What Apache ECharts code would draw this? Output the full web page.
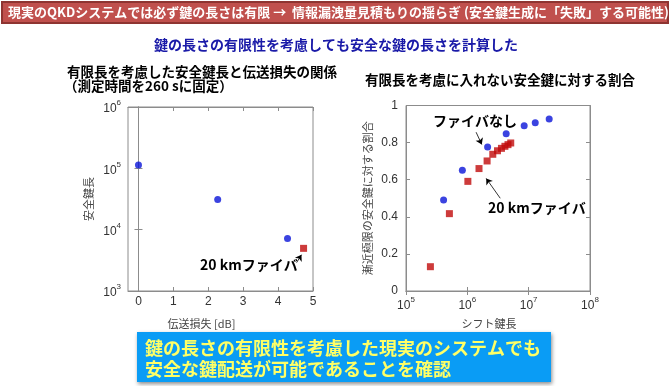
<!DOCTYPE html>
<html><head><meta charset="utf-8">
<script src="https://cdn.jsdelivr.net/npm/echarts@6/dist/echarts.min.js"></script>
<style>html,body{margin:0;padding:0;background:#fff}#c{width:670px;height:386px}</style>
</head><body><div id="c"></div>
<script>
// Left chart: secure key length vs transmission loss (finite length, 260 s)
const lossDb = [0, 2.27, 4.27];
const secureKeyLen = [113000, 31000, 7200];
const fiberLossDb = [4.73];
const fiberSecureKeyLen = [4960];
const lossTicks = [0, 1, 2, 3, 4, 5];

// Right chart: ratio to asymptotic secure key vs sifted key length
const siftNoFiber = [4.1e5, 8.3e5, 2.14e6, 4.3e6, 8.45e6, 1.28e7, 2.16e7];
const ratioNoFiber = [0.49, 0.651, 0.776, 0.848, 0.891, 0.907, 0.927];
const sift20km = [2.5e5, 5.1e5, 1.02e6, 1.55e6, 2.1e6, 2.6e6, 3.1e6, 3.6e6, 4.1e6, 4.6e6, 5.1e6];
const ratio20km = [0.131, 0.417, 0.591, 0.66, 0.701, 0.737, 0.756, 0.769, 0.78, 0.789, 0.798];

const JP = '"Noto Sans CJK JP", sans-serif';
const LAT = '"Liberation Sans", Arial, sans-serif';

const supRich = {
  b: {fontSize: 12, fontFamily: LAT, color: '#333', lineHeight: 16, verticalAlign: 'bottom'},
  s: {fontSize: 8, fontFamily: LAT, color: '#333', lineHeight: 8, verticalAlign: 'top'}
};
function powFmt(v) {
  const e = Math.round(Math.log10(v));
  return '{b|10}{s|' + e + '}';
}
const axLine = {show: true, lineStyle: {color: '#8c8c8c', width: 1}};
const tickIn = {show: true, inside: true, length: 4, lineStyle: {color: '#8c8c8c'}};

const chart = echarts.init(document.getElementById('c'), null, {renderer: 'canvas'});
chart.setOption({
  animation: false,
  backgroundColor: '#fff',
  grid: [
    {left: 128, top: 107, width: 185, height: 184, show: true, borderColor: '#8c8c8c', borderWidth: 1},
    {left: 406, top: 105.5, width: 184, height: 185.5, show: true, borderColor: '#8c8c8c', borderWidth: 1}
  ],
  xAxis: [
    {gridIndex: 0, type: 'value', min: -0.3, max: 5,
     name: '伝送損失 [dB]', nameLocation: 'middle', nameGap: 27,
     nameTextStyle: {fontFamily: JP, fontSize: 11, color: '#444', padding: [0, 38, 0, 0]},
     axisLine: axLine, axisTick: Object.assign({customValues: lossTicks}, tickIn),
     axisLabel: {customValues: lossTicks, fontFamily: LAT, fontSize: 12, color: '#333', margin: 5},
     splitLine: {show: false}},
    {gridIndex: 0, type: 'value', position: 'top', min: -0.3, max: 5,
     axisLine: axLine, axisTick: Object.assign({customValues: lossTicks}, tickIn),
     axisLabel: {show: false}, splitLine: {show: false}},
    {gridIndex: 1, type: 'log', logBase: 10, min: 1e5, max: 1e8,
     name: 'シフト鍵長', nameLocation: 'middle', nameGap: 27,
     nameTextStyle: {fontFamily: JP, fontSize: 11, color: '#444', padding: [0, 18, 0, 0]},
     axisLine: axLine, axisTick: tickIn, minorTick: {show: false},
     axisLabel: {formatter: powFmt, rich: supRich, margin: 5},
     splitLine: {show: false}},
    {gridIndex: 1, type: 'log', logBase: 10, min: 1e5, max: 1e8, position: 'top',
     axisLine: axLine, axisTick: tickIn, axisLabel: {show: false}, splitLine: {show: false}}
  ],
  yAxis: [
    {gridIndex: 0, type: 'log', logBase: 10, min: 1e3, max: 1e6,
     name: '安全鍵長', nameLocation: 'middle', nameGap: 34,
     nameTextStyle: {fontFamily: JP, fontSize: 11, color: '#444'},
     axisLine: axLine, axisTick: tickIn, minorTick: {show: false},
     axisLabel: {formatter: powFmt, rich: supRich, margin: 7},
     splitLine: {show: false}},
    {gridIndex: 0, type: 'log', logBase: 10, min: 1e3, max: 1e6, position: 'right',
     axisLine: axLine, axisTick: tickIn, axisLabel: {show: false}, splitLine: {show: false}},
    {gridIndex: 1, type: 'value', min: 0, max: 1, interval: 0.2,
     name: '漸近極限の安全鍵に対する割合', nameLocation: 'middle', nameGap: 33,
     nameTextStyle: {fontFamily: JP, fontSize: 11, color: '#444'},
     axisLine: axLine, axisTick: tickIn,
     axisLabel: {fontFamily: LAT, fontSize: 12, color: '#333', margin: 8,
       formatter: v => String(Math.round(v * 10) / 10)},
     splitLine: {show: false}},
    {gridIndex: 1, type: 'value', min: 0, max: 1, interval: 0.2, position: 'right',
     axisLine: axLine, axisTick: tickIn, axisLabel: {show: false}, splitLine: {show: false}}
  ],
  series: [
    {type: 'scatter', xAxisIndex: 0, yAxisIndex: 0, symbol: 'circle', symbolSize: 7,
     itemStyle: {color: '#0a14d8'},
     data: lossDb.map((x, i) => [x, secureKeyLen[i]])},
    {type: 'scatter', xAxisIndex: 0, yAxisIndex: 0, symbol: 'rect', symbolSize: 7,
     itemStyle: {color: '#c00a0a'},
     data: fiberLossDb.map((x, i) => [x, fiberSecureKeyLen[i]]),
     markLine: {silent: true, symbol: ['none', 'arrow'], symbolSize: [6, 6],
       lineStyle: {color: '#000', width: 0.8, type: 'solid'}, label: {show: false},
       data: [[{coord: [4.53, 2900]}, {coord: [4.67, 3900]}]]}},
    {type: 'scatter', xAxisIndex: 2, yAxisIndex: 2, symbol: 'circle', symbolSize: 7,
     itemStyle: {color: '#0a14d8'},
     data: siftNoFiber.map((x, i) => [x, ratioNoFiber[i]]),
     markLine: {silent: true, symbol: ['none', 'arrow'], symbolSize: [6, 6],
       lineStyle: {color: '#000', width: 0.8, type: 'solid'}, label: {show: false},
       data: [[{coord: [1.39e6, 0.856]}, {coord: [1.72e6, 0.79]}]]}},
    {type: 'scatter', xAxisIndex: 2, yAxisIndex: 2, symbol: 'rect', symbolSize: 7,
     itemStyle: {color: '#c00a0a'},
     data: sift20km.map((x, i) => [x, ratio20km[i]]),
     markLine: {silent: true, symbol: ['none', 'arrow'], symbolSize: [6, 6],
       lineStyle: {color: '#000', width: 0.8, type: 'solid'}, label: {show: false},
       data: [[{coord: [3.44e6, 0.50]}, {coord: [2.03e6, 0.607]}]]}}
  ],
  graphic: [
    {type: 'rect', shape: {x: 2, y: 2, width: 666, height: 21},
     style: {fill: '#c0504d', stroke: '#8e3431', lineWidth: 2}, z: 1},
    {type: 'text', x: 8, y: 12.5, z: 2,
     style: {text: '現実のQKDシステムでは必ず鍵の長さは有限 →  情報漏洩量見積もりの揺らぎ (安全鍵生成に「失敗」する可能性)',
       fill: '#fff', font: 'bold 13px ' + JP, verticalAlign: 'middle'}},
    {type: 'text', x: 336, y: 45, z: 2,
     style: {text: '鍵の長さの有限性を考慮しても安全な鍵の長さを計算した',
       fill: '#1a1aa8', font: 'bold 14px ' + JP, align: 'center', verticalAlign: 'middle'}},
    {type: 'text', x: 67, y: 72, z: 2,
     style: {text: '有限長を考慮した安全鍵長と伝送損失の関係',
       fill: '#000', font: 'bold 13.5px ' + JP, verticalAlign: 'middle'}},
    {type: 'text', x: 64, y: 86, z: 2,
     style: {text: '（測定時間を260 sに固定）',
       fill: '#000', font: 'bold 13.5px ' + JP, verticalAlign: 'middle'}},
    {type: 'text', x: 365, y: 80, z: 2,
     style: {text: '有限長を考慮に入れない安全鍵に対する割合',
       fill: '#000', font: 'bold 13.5px ' + JP, verticalAlign: 'middle'}},
    {type: 'text', x: 200, y: 265, z: 5,
     style: {text: '20 kmファイバ', fill: '#000', font: 'bold 14px ' + JP, verticalAlign: 'middle'}},
    {type: 'text', x: 433, y: 121, z: 5,
     style: {text: 'ファイバなし', fill: '#000', font: 'bold 14px ' + JP, verticalAlign: 'middle'}},
    {type: 'text', x: 488, y: 208, z: 5,
     style: {text: '20 kmファイバ', fill: '#000', font: 'bold 14px ' + JP, verticalAlign: 'middle'}},
    {type: 'rect', shape: {x: 137, y: 332, width: 414, height: 50},
     style: {fill: '#0a9cf5', shadowBlur: 4, shadowColor: 'rgba(0,0,0,0.45)', shadowOffsetX: 1, shadowOffsetY: 2}, z: 1},
    {type: 'text', x: 145, y: 348, z: 2,
     style: {text: '鍵の長さの有限性を考慮した現実のシステムでも',
       fill: '#ffff66', font: 'bold 18px ' + JP, verticalAlign: 'middle'}},
    {type: 'text', x: 145, y: 369, z: 2,
     style: {text: '安全な鍵配送が可能であることを確認',
       fill: '#ffff66', font: 'bold 18px ' + JP, verticalAlign: 'middle'}}
  ]
});
</script></body></html>
